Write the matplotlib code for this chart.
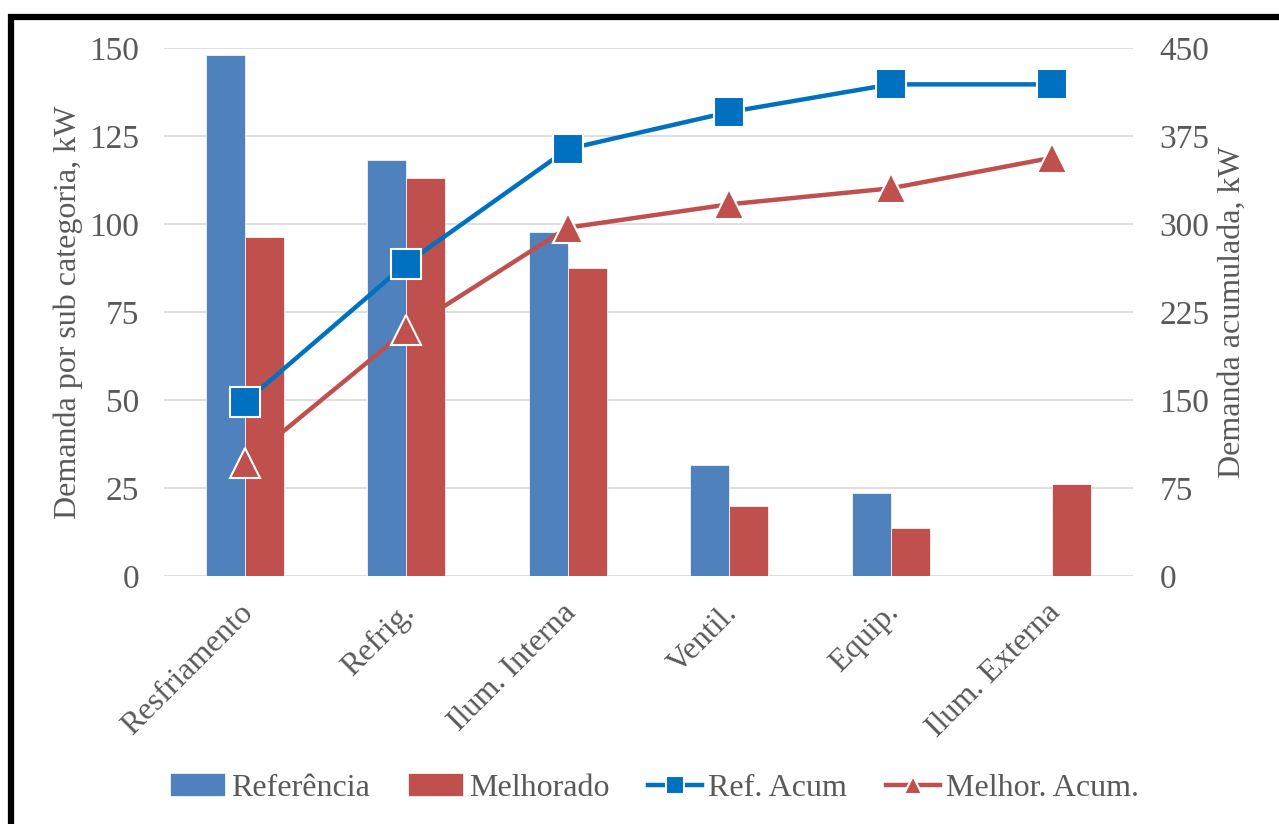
import matplotlib.pyplot as plt
import numpy as np
from matplotlib.patches import Rectangle
from matplotlib.transforms import ScaledTranslation

categorias = ["Resfriamento", "Refrig.", "Ilum. Interna", "Ventil.", "Equip.", "Ilum. Externa"]
referencia = [148.0, 118.2, 97.7, 31.5, 23.6, 0.0]
melhorado = [96.3, 113.1, 87.5, 19.9, 13.6, 26.1]
ref_acum = [148.0, 266.2, 363.9, 395.4, 419.0, 419.0]
melhor_acum = [96.3, 209.4, 296.9, 316.8, 330.4, 356.5]

azul_barra = "#4F81BD"
vermelho = "#C0504D"
azul_linha = "#0070C0"
cinza = "#595959"

plt.rcParams['font.family'] = ['Liberation Serif', 'DejaVu Serif']

fig = plt.figure(figsize=(12.79, 8.24), dpi=100)
ax = fig.add_axes([164/1279, 1-576/824, 969/1279, 528/824])
ax2 = ax.twinx()

x = np.arange(len(categorias))
w = 0.24
ax.bar(x - w/2, referencia, w, color=azul_barra, edgecolor="white", linewidth=0.5, label="Referência", zorder=2)
ax.bar(x + w/2, melhorado, w, color=vermelho, edgecolor="white", linewidth=0.5, label="Melhorado", zorder=2)

ax2.plot(x, ref_acum, color=azul_linha, lw=3.2, marker="s", ms=21, mfc=azul_linha,
         mec="white", mew=1.5, label="Ref. Acum")
ax2.plot(x, melhor_acum, color=vermelho, lw=3.2, marker="^", ms=22, mfc=vermelho,
         mec="white", mew=1.5, label="Melhor. Acum.")

ax.set_xlim(-0.5, len(categorias) - 0.5)
ax.set_ylim(0, 150)
ax2.set_ylim(0, 450)
ax.set_yticks(np.arange(0, 151, 25))
ax2.set_yticks(np.arange(0, 451, 75))
ax.yaxis.grid(True, color="#D9D9D9", lw=1.2, zorder=0)
ax.set_axisbelow(True)

for a in (ax, ax2):
    for s in a.spines.values():
        s.set_visible(False)
    a.tick_params(length=0, labelsize=24, labelcolor=cinza)
ax.tick_params(axis="y", pad=18)
ax2.tick_params(axis="y", pad=19)

ax.set_xticks(x)
ax.set_xticklabels(categorias, rotation=45, ha="right", va="top", rotation_mode="anchor", fontsize=23)
ax.tick_params(axis="x", pad=16)
desloc = ScaledTranslation(-6/100, 0, fig.dpi_scale_trans)
for lbl in ax.get_xticklabels():
    lbl.set_transform(lbl.get_transform() + desloc)

ax.set_ylabel("Demanda por sub categoria, kW", fontsize=23, color=cinza, labelpad=4)
ax2.set_ylabel("Demanda acumulada, kW", fontsize=23, color=cinza, labelpad=6)

h1, l1 = ax.get_legend_handles_labels()
h2, l2 = ax2.get_legend_handles_labels()
leg = fig.legend(h1 + h2, l1 + l2, loc="center", bbox_to_anchor=(0.512, 1-788/824), ncol=4,
                 frameon=False, fontsize=23, handlelength=1.7, handletextpad=0.2,
                 columnspacing=1.2, markerscale=0.6)
for t in leg.get_texts():
    t.set_color(cinza)

# moldura preta em volta da figura
fig.patches.append(Rectangle((11/1279, -0.1), 1.2, 1.1 - 17/824, transform=fig.transFigure,
                             fill=False, edgecolor="black", lw=4.5, zorder=10))

fig.savefig("out.png", dpi=100)
plt.close()
